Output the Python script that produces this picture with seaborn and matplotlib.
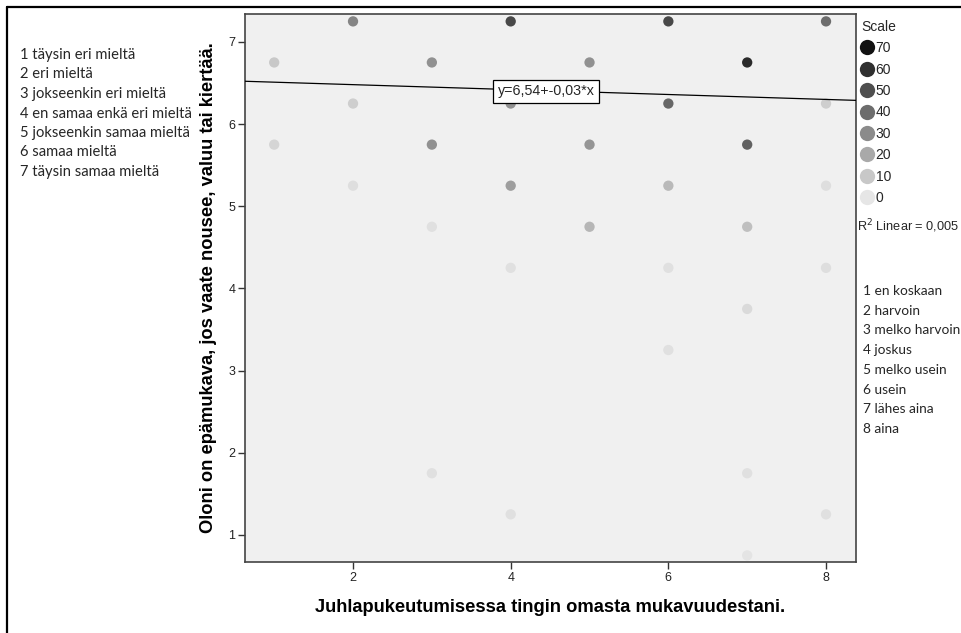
import matplotlib
matplotlib.use("Agg")
import matplotlib.pyplot as plt
from matplotlib.colors import LinearSegmentedColormap, Normalize
from matplotlib.lines import Line2D
import numpy as np
import pandas as pd
import seaborn as sns

# Binned scatter: bin centres and the number of respondents in each bin
bin_x = [2, 4, 6, 8,
         1, 3, 5, 7,
         2, 4, 6, 8,
         1, 3, 5, 7,
         2, 4, 6, 8,
         3, 5, 7,
         4, 6, 8,
         7,
         6,
         3, 7,
         4, 8,
         7]
bin_y = [7.25, 7.25, 7.25, 7.25,
         6.75, 6.75, 6.75, 6.75,
         6.25, 6.25, 6.25, 6.25,
         5.75, 5.75, 5.75, 5.75,
         5.25, 5.25, 5.25, 5.25,
         4.75, 4.75, 4.75,
         4.25, 4.25, 4.25,
         3.75,
         3.25,
         1.75, 1.75,
         1.25, 1.25,
         0.75]
bin_count = [32, 52, 52, 40,
             10, 28, 28, 62,
             8, 28, 42, 8,
             6, 28, 27, 44,
             3, 24, 15, 3,
             2, 16, 13,
             2, 2, 3,
             4,
             2,
             2, 2,
             2, 2,
             1]

# Linear fit reported by the chart
fit_intercept = 6.54
fit_slope = -0.03
fit_r2 = "0,005"

scale_levels = [70, 60, 50, 40, 30, 20, 10, 0]
x_ticks = [2, 4, 6, 8]
y_ticks = [1, 2, 3, 4, 5, 6, 7]

agree_labels = ["1 täysin eri mieltä", "2 eri mieltä", "3 jokseenkin eri mieltä",
                "4 en samaa enkä eri mieltä", "5 jokseenkin samaa mieltä",
                "6 samaa mieltä", "7 täysin samaa mieltä"]
freq_labels = ["1 en koskaan", "2 harvoin", "3 melko harvoin", "4 joskus",
               "5 melko usein", "6 usein", "7 lähes aina", "8 aina"]

x_title = "Juhlapukeutumisessa tingin omasta mukavuudestani."
y_title = "Oloni on epämukava, jos vaate nousee, valuu tai kiertää."

sns.set_theme(style="white")
plt.rcParams["font.family"] = ["Liberation Sans", "DejaVu Sans"]

sans = ["Liberation Sans", "DejaVu Sans"]
list_font = ["Lato", "DejaVu Sans"]

fig = plt.figure(figsize=(9.62, 6.33), dpi=100)
fig.patch.set_facecolor("white")
ax = fig.add_axes([0.2547, 0.1122, 0.6351, 0.8657])
ax.set_facecolor("#f0f0f0")

cmap = LinearSegmentedColormap.from_list("scale", ["#e6e6e6", "#121212"])
norm = Normalize(vmin=0, vmax=70)

df = pd.DataFrame({"x": bin_x, "y": bin_y, "n": bin_count})
sns.scatterplot(data=df, x="x", y="y", hue="n", palette=cmap, hue_norm=norm,
                s=55, edgecolor="none", legend=False, ax=ax, zorder=3)

ax.set_xlim(0.63, 8.38)
ax.set_ylim(0.67, 7.34)

# Fit line across the full x range
xs = np.array(ax.get_xlim())
ax.plot(xs, fit_intercept + fit_slope * xs, color="black", lw=0.9, zorder=4)
ax.text(4.45, 6.40, "y=6,54+-0,03*x", family=sans, fontsize=10.3,
        ha="center", va="center", zorder=5,
        bbox=dict(boxstyle="square,pad=0.3", fc="white", ec="black", lw=0.9))

ax.set_xticks(x_ticks)
ax.set_yticks(y_ticks)
ax.set_xticklabels([str(v) for v in x_ticks], family=sans, fontsize=9)
ax.set_yticklabels([str(v) for v in y_ticks], family=sans, fontsize=9)
ax.tick_params(axis="both", which="both", direction="out", length=5, width=1,
               color="#333333", labelcolor="#222222", pad=2,
               bottom=True, left=True, top=False, right=False)
for side in ["left", "bottom", "top", "right"]:
    ax.spines[side].set_color("#444444")
    ax.spines[side].set_linewidth(1.2)

ax.set_xlabel(x_title, fontsize=13.2, fontweight="bold", color="black")
ax.set_ylabel(y_title, fontsize=13.2, fontweight="bold", color="black")
ax.xaxis.set_label_coords(0.5, -0.068)
ax.yaxis.set_label_coords(-0.046, 0.5)

# Shade legend
handles = [Line2D([], [], marker="o", linestyle="none", markersize=11,
                  markerfacecolor=cmap(norm(v)), markeredgecolor="none")
           for v in scale_levels]
leg = fig.legend(handles, [str(v) for v in scale_levels], title="Scale",
                 loc="upper left", bbox_to_anchor=(861 / 962, 1 - 20 / 633),
                 frameon=False, handlelength=0.8, handletextpad=0.25,
                 labelspacing=0.53, borderaxespad=0, borderpad=0,
                 prop={"family": sans, "size": 10},
                 title_fontproperties={"family": sans, "size": 10})
leg._legend_box.align = "left"

fig.text(857 / 962, 1 - 226 / 633, "R$^2$ Linear = " + fit_r2, family=sans,
         fontsize=9.2, ha="left", va="center")

# Value-label lists beside the chart
for i, lab in enumerate(agree_labels):
    fig.text(20 / 962, 1 - (55 + i * 19.5) / 633, lab, family=list_font,
             fontsize=10.6, ha="left", va="center")
for i, lab in enumerate(freq_labels):
    fig.text(863 / 962, 1 - (291 + i * 19.7) / 633, lab, family=list_font,
             fontsize=9.9, ha="left", va="center")

# Page frame lines
fig.add_artist(Line2D([7 / 962, 1.0], [1 - 7 / 633, 1 - 7 / 633],
                      transform=fig.transFigure, color="black", lw=1.6))
fig.add_artist(Line2D([7 / 962, 7 / 962], [0.0, 1 - 7 / 633],
                      transform=fig.transFigure, color="black", lw=1.6))

fig.savefig("out.png", dpi=100)
